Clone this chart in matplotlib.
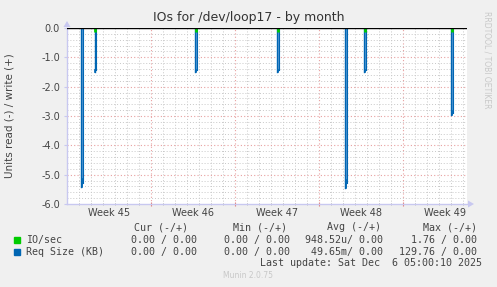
import numpy as np
import matplotlib
matplotlib.use("Agg")
import matplotlib.pyplot as plt
from matplotlib.patches import Rectangle, FancyArrow

# -----------------------------
# Data (x in days from left edge of the month window)
# -----------------------------
spike_days = [1.25, 2.37, 10.77, 17.6, 23.27, 24.85, 32.1]
req_size_read = [-5.43, -1.49, -1.49, -1.49, -5.44, -1.49, -2.97]
io_days = [2.37, 10.77, 17.6, 24.85, 32.1]
io_read = [-0.12, -0.12, -0.12, -0.12, -0.12]

week_labels = ["Week 45", "Week 46", "Week 47", "Week 48", "Week 49"]
week_label_pos = [3.5, 10.5, 17.5, 24.5, 31.5]
week_bounds = [7, 14, 21, 28]
y_ticks = [0.0, -1.0, -2.0, -3.0, -4.0, -5.0, -6.0]
y_tick_labels = ["0.0", "-1.0", "-2.0", "-3.0", "-4.0", "-5.0", "-6.0"]

legend_header = ["Cur (-/+)", "Min (-/+)", "Avg (-/+)", "Max (-/+)"]
legend_rows = [
    ("IO/sec", "#00CC00", ["0.00 / 0.00", "0.00 / 0.00", "948.52u/ 0.00", "1.76 / 0.00"]),
    ("Req Size (KB)", "#0066B3", ["0.00 / 0.00", "0.00 / 0.00", "49.65m/ 0.00", "129.76 / 0.00"]),
]
last_update = "Last update: Sat Dec  6 05:00:10 2025"

# -----------------------------
# Layout
# -----------------------------
W, H = 497, 287
X0, X1 = 0.0, 33.33
plt.rcParams["axes.unicode_minus"] = False
TXT = "#444444"
MONO = "DejaVu Sans Mono"


def px(x, y):
    return x / W, 1 - y / H


fig = plt.figure(figsize=(W / 100, H / 100), dpi=100, facecolor="#F0F0F0")
ax = fig.add_axes([67 / W, 1 - 204 / H, 400 / W, 176 / H], facecolor="white")
ax.set_xlim(X0, X1)
ax.set_ylim(-6, 0)

# grid
for d in np.arange(1, 34):
    if d in week_bounds:
        continue
    ax.axvline(d, color="#C8C8C8", lw=0.7, ls=(0, (1, 2)), zorder=1)
for d in week_bounds:
    ax.axvline(d, color="#E8A0A0", lw=0.8, ls=(0, (1, 2)), zorder=1)
for yv in np.arange(-5.8, 0, 0.2):
    if abs(yv - round(yv)) < 1e-6:
        continue
    ax.axhline(yv, color="#C8C8C8", lw=0.7, ls=(0, (1, 2)), zorder=1)
for yv in y_ticks[1:-1]:
    ax.axhline(yv, color="#E8A0A0", lw=0.8, ls=(0, (1, 2)), zorder=1)

# spikes
w = 0.07
for c, v in zip(spike_days, req_size_read):
    ax.fill_between([c - w, c + w], [v, v], [0, 0], color="#5B9BD5", lw=0, zorder=3)
    ax.plot([c - w, c - w], [0, v], color="#0066B3", lw=1.0, zorder=4)
    ax.plot([c + w, c + w], [0, v * 0.97], color="#0066B3", lw=0.8, zorder=4)
    ax.plot([c, c], [v * 0.95, v], color="#0066B3", lw=1.2, zorder=4)
for c, v in zip(io_days, io_read):
    ax.plot([c, c], [0, v], color="#00CC00", lw=2.0, zorder=5, solid_capstyle="butt")

ax.axhline(0, color="black", lw=1.0, zorder=6)

# axes
for s in ["top", "right"]:
    ax.spines[s].set_visible(False)
for s in ["left", "bottom"]:
    ax.spines[s].set_color("#C8C8F0")
    ax.spines[s].set_linewidth(1.0)
ax.set_yticks(y_ticks)
ax.set_yticklabels(y_tick_labels, fontsize=7, color=TXT)
ax.tick_params(axis="y", length=2, color="#C8C8F0", pad=3)
ax.set_xticks(week_bounds)
ax.set_xticklabels([])
ax.set_xticks(np.arange(1, 34), minor=True)
ax.tick_params(axis="x", which="major", length=3, direction="inout", color="#E08080")
ax.tick_params(axis="x", which="minor", length=2, direction="inout", color="#B0B0B0")
for p, lab in zip(week_label_pos, week_labels):
    fig.text(*px(67 + p * 12, 212.5), lab, ha="center", va="center", fontsize=7, color=TXT)

# arrows on axes
fig.patches.append(FancyArrow(467 / W, 1 - 204 / H, 1 / W, 0, width=0, head_width=7 / H,
                              head_length=6 / W, color="#C8C8F0", transform=fig.transFigure, lw=0))
fig.patches.append(FancyArrow(67 / W, 1 - 28 / H, 0, 1 / H, width=0, head_width=7 / W,
                              head_length=6 / H, color="#C8C8F0", transform=fig.transFigure, lw=0))

# titles
fig.text(*px(249, 18), "IOs for /dev/loop17 - by month", ha="center", va="center",
         fontsize=9, color="#333333")
fig.text(*px(10, 116), "Units read (-) / write (+)", ha="center", va="center",
         rotation=90, fontsize=7.5, color=TXT)
fig.text(*px(487, 60), "RRDTOOL / TOBI OETIKER", ha="center", va="center",
         rotation=270, fontsize=5.5, color="#C8C8C8")

# legend
col_right = [197, 290, 383, 477]
head_x = [161, 260, 354, 450]
for x, t in zip(head_x, legend_header):
    fig.text(*px(x, 227), t, ha="center", va="center", family=MONO, fontsize=7.2, color=TXT)
for i, (name, colr, vals) in enumerate(legend_rows):
    yy = 239.5 + 12.3 * i
    fig.patches.append(Rectangle(px(14, yy + 3), 6 / W, 6 / H, color=colr,
                                 transform=fig.transFigure))
    fig.text(*px(26, yy), name, ha="left", va="center", family=MONO, fontsize=7.2, color=TXT)
    for x, v in zip(col_right, vals):
        fig.text(*px(x, yy), v, ha="right", va="center", family=MONO, fontsize=7.2, color=TXT)
fig.text(*px(482, 263), last_update, ha="right", va="center", family=MONO,
         fontsize=7.2, color=TXT)
fig.text(*px(248, 276), "Munin 2.0.75", ha="center", va="center", fontsize=5.5,
         color="#C8C8C8")

fig.savefig("out.png", dpi=100, facecolor=fig.get_facecolor())
